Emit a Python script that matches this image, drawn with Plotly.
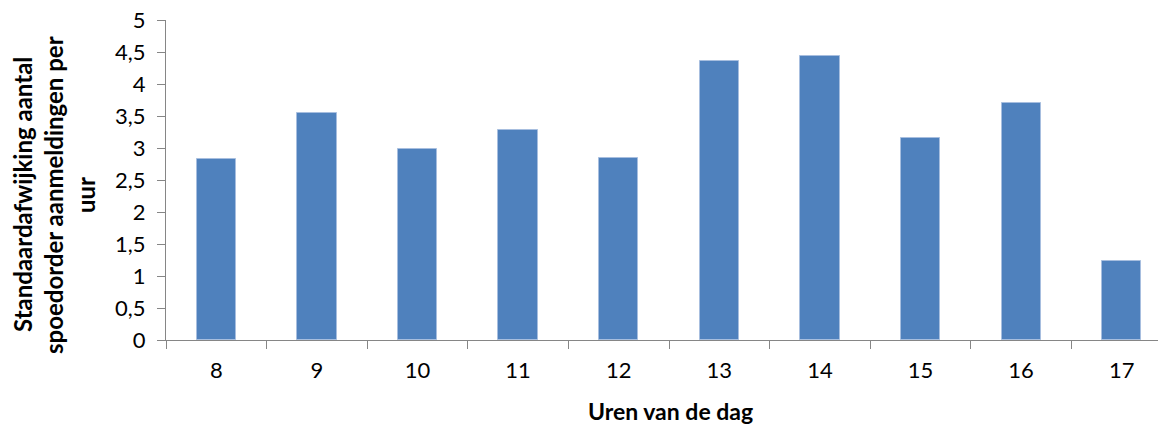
import plotly.graph_objects as go

hours = ["8", "9", "10", "11", "12", "13", "14", "15", "16", "17"]
std_dev = [2.83, 3.54, 2.98, 3.28, 2.84, 4.36, 4.44, 3.15, 3.70, 1.23]
y_ticks = [0, 0.5, 1, 1.5, 2, 2.5, 3, 3.5, 4, 4.5, 5]
y_ticktext = ["0", "0,5", "1", "1,5", "2", "2,5", "3", "3,5", "4", "4,5", "5"]
y_title_lines = ["Standaardafwijking aantal", "spoedorder aanmeldingen per", "uur"]
x_title = "Uren van de dag"

FONT = "Lato"
FS_TICK = 22
FS_TITLE = 23
AXIS_COLOR = "#868686"

fig = go.Figure(go.Bar(
    x=hours, y=std_dev, width=0.39,
    marker=dict(color="#4F81BD", line=dict(color="#A7BEDF", width=1)),
))

# page body has an 8px margin; compensate so the plot lands where the reference has it
OFF = 8
W, H = 1166 - OFF, 427 - OFF
ml, mr, mt, mb = 166 - OFF, 0, 20 - OFF, 87
pw, ph = W - ml - mr, H - mt - mb

fig.update_layout(
    width=W, height=H,
    margin=dict(l=ml, r=mr, t=mt, b=mb, pad=0, autoexpand=False),
    paper_bgcolor="white", plot_bgcolor="white",
    font=dict(family=FONT, size=FS_TICK, color="black"),
    showlegend=False,
    bargap=0,
)
fig.update_xaxes(
    type="category", range=[-0.5, 9.44],
    showline=True, linecolor=AXIS_COLOR, linewidth=1,
    ticks="outside", tickson="boundaries", ticklen=8, tickcolor=AXIS_COLOR,
    ticklabelstandoff=11, ticklabeloverflow="allow",
    showgrid=False, zeroline=False,
    tickfont=dict(family=FONT, size=FS_TICK),
)
fig.update_yaxes(
    range=[0, 5], tickvals=y_ticks, ticktext=y_ticktext,
    showline=True, linecolor=AXIS_COLOR, linewidth=1,
    ticks="outside", ticklen=8, tickcolor=AXIS_COLOR,
    ticklabelstandoff=7, ticklabeloverflow="allow",
    showgrid=False, zeroline=False,
    tickfont=dict(family=FONT, size=FS_TICK),
)

def px_x(x):
    return (x - OFF - ml) / pw

def px_y(y):
    return (H - mb - (y - OFF)) / ph

fig.add_annotation(
    text="<b>" + x_title + "</b>",
    xref="paper", yref="paper", x=px_x(670), y=px_y(411),
    xanchor="center", yanchor="middle", showarrow=False,
    font=dict(family=FONT, size=FS_TITLE, color="black"),
)

x_centers_px = [22, 53, 85]
y_center_px = 195
for line, xc in zip(y_title_lines, x_centers_px):
    fig.add_annotation(
        text="<b>" + line + "</b>", textangle=-90,
        xref="paper", yref="paper",
        x=px_x(xc), y=px_y(y_center_px),
        xanchor="center", yanchor="middle", showarrow=False,
        font=dict(family=FONT, size=FS_TITLE + 1, color="black"),
    )

fig.write_html("out.html")
